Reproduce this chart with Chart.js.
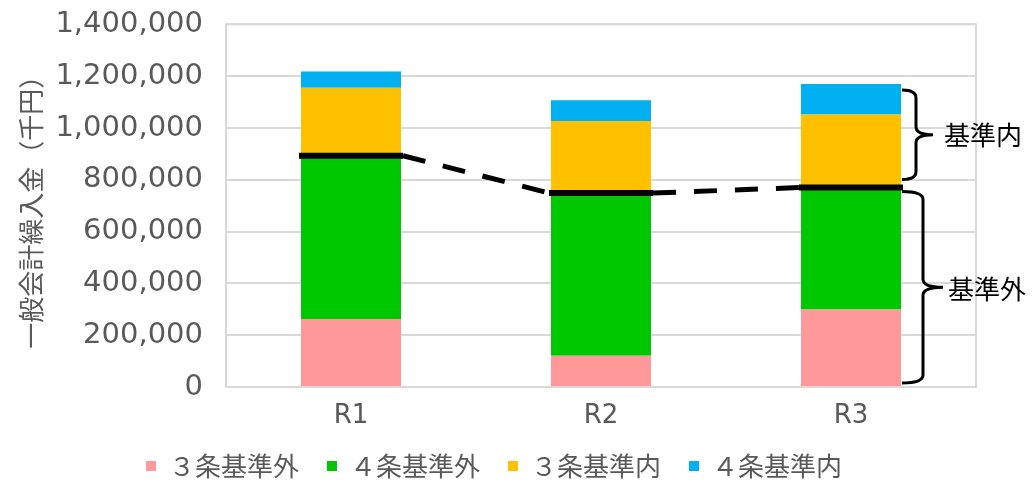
<!DOCTYPE html>
<html><head><meta charset="utf-8">
<script src="https://cdn.jsdelivr.net/npm/chart.js@4"></script>
<style>html,body{margin:0;padding:0;background:#fff;}#wrap{width:1032px;height:480px;}</style>
</head><body><div id="wrap"><canvas id="c" width="1032" height="480"></canvas></div>
<script>
const categories = ['R1', 'R2', 'R3'];
const seriesNames = ['３条基準外', '４条基準外', '３条基準内', '４条基準内'];
const art3Outside = [263000, 121000, 299000];
const art4Outside = [630000, 628000, 471000];
const art3Inside = [262000, 278000, 282000];
const art4Inside = [63000, 80000, 118000];
const yMin = 0, yMax = 1400000, yStep = 200000;
const yTitle = '一般会計繰入金（千円）';
const braceLabels = ['基準内', '基準外'];
const seriesColors = ['#FF9999', '#00C800', '#FFC000', '#00B0F0'];

const seriesValues = [art3Outside, art4Outside, art3Inside, art4Inside];

const overlay = {
  id: 'overlay',
  beforeDatasetsDraw(chart) {
    const ctx = chart.ctx, a = chart.chartArea;
    ctx.save();
    ctx.strokeStyle = '#d9d9d9';
    ctx.lineWidth = 2;
    ctx.strokeRect(a.left, a.top, a.right - a.left, a.bottom - a.top);
    ctx.restore();
  },
  afterDatasetsDraw(chart) {
    const ctx = chart.ctx, ys = chart.scales.y;
    const meta = chart.getDatasetMeta(1);
    const segs = meta.data.map((el, i) => ({
      l: el.x - el.width / 2 - 2,
      r: el.x + el.width / 2 + 2,
      y: ys.getPixelForValue(art3Outside[i] + art4Outside[i])
    }));
    ctx.save();
    ctx.strokeStyle = '#000';
    ctx.lineCap = 'butt';
    ctx.lineWidth = 6;
    segs.forEach(s => { ctx.beginPath(); ctx.moveTo(s.l, s.y); ctx.lineTo(s.r, s.y); ctx.stroke(); });
    ctx.lineWidth = 5;
    ctx.setLineDash([23, 18]);
    for (let i = 0; i < segs.length - 1; i++) {
      ctx.beginPath();
      ctx.moveTo(segs[i].r, segs[i].y);
      ctx.lineTo(segs[i + 1].l, segs[i + 1].y);
      ctx.stroke();
    }
    ctx.setLineDash([]);
    // braces on the last bar
    const last = categories.length - 1;
    const el = meta.data[last];
    const xL = el.x + el.width / 2 + 1;
    const total = art3Outside[last] + art4Outside[last] + art3Inside[last] + art4Inside[last];
    const base = art3Outside[last] + art4Outside[last];
    const yTotal = ys.getPixelForValue(total);
    const yBase = ys.getPixelForValue(base);
    const yZero = ys.getPixelForValue(0);
    function brace(xV, xTip, top, bot) {
      const mid = (top + bot) / 2, r = 8;
      ctx.beginPath();
      ctx.moveTo(xL, top);
      ctx.quadraticCurveTo(xV, top, xV, top + r);
      ctx.lineTo(xV, mid - r);
      ctx.quadraticCurveTo(xV, mid, xTip, mid);
      ctx.quadraticCurveTo(xV, mid, xV, mid + r);
      ctx.lineTo(xV, bot - r);
      ctx.quadraticCurveTo(xV, bot, xL, bot);
      ctx.stroke();
      return mid;
    }
    ctx.lineWidth = 3;
    const m1 = brace(xL + 14, xL + 31, yTotal + 6, yBase - 8);
    const m2 = brace(xL + 21, xL + 41, yBase + 4, yZero - 4);
    ctx.fillStyle = '#000';
    ctx.font = '26px "Noto Sans CJK JP"';
    ctx.textBaseline = 'middle';
    ctx.textAlign = 'left';
    ctx.fillText(braceLabels[0], xL + 42, m1);
    ctx.fillText(braceLabels[1], xL + 46, m2 + 2);
    ctx.restore();
  }
};

new Chart(document.getElementById('c'), {
  type: 'bar',
  data: {
    labels: categories,
    datasets: seriesNames.map((n, i) => ({
      label: n,
      data: seriesValues[i],
      backgroundColor: seriesColors[i],
      borderWidth: 0,
      barPercentage: 0.5,
      categoryPercentage: 0.8
    }))
  },
  options: {
    responsive: false,
    animation: false,
    layout: { padding: { left: 12, right: 56, top: 10, bottom: 0 } },
    scales: {
      x: {
        stacked: true,
        grid: { display: false },
        border: { display: false },
        ticks: { color: '#595959', font: { family: 'DejaVu Sans', size: 26 }, padding: 6 },
        afterFit(s) { s.height = 38; }
      },
      y: {
        stacked: true,
        min: yMin, max: yMax,
        ticks: {
          stepSize: yStep, color: '#595959', padding: 7,
          font: { family: 'DejaVu Sans', size: 29 },
          callback: v => Number(v).toLocaleString('en-US')
        },
        grid: { color: '#d9d9d9', lineWidth: 2, drawTicks: true, tickLength: 16, tickColor: 'rgba(0,0,0,0)' },
        border: { display: false },
        title: {
          display: true, text: yTitle, color: '#595959',
          font: { family: 'Noto Sans CJK JP', size: 26 },
          padding: { top: 4, bottom: 0 }
        },
        afterFit(s) { s.width = 214; }
      }
    },
    plugins: {
      legend: {
        position: 'bottom',
        maxHeight: 55,
        labels: {
          boxWidth: 10, boxHeight: 10, padding: 28, color: '#595959',
          font: { family: 'Noto Sans CJK JP', size: 26 }
        }
      },
      tooltip: { enabled: false }
    }
  },
  plugins: [overlay]
});
</script></body></html>
